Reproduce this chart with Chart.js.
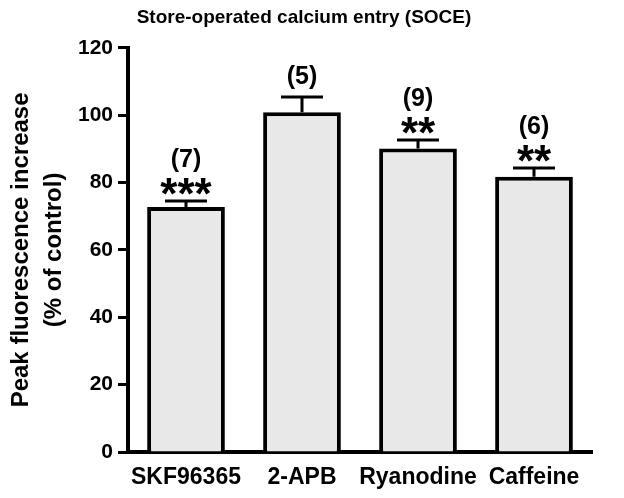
<!DOCTYPE html>
<html>
<head>
<meta charset="utf-8">
<script src="https://cdn.jsdelivr.net/npm/chart.js@4"></script>
<style>
  html, body { margin: 0; padding: 0; background: #fff; }
  #wrap { width: 624px; height: 498px; }
</style>
</head>
<body>
<div id="wrap"><canvas id="chart"></canvas></div>
<script>
const categories = ["SKF96365", "2-APB", "Ryanodine", "Caffeine"];
const means = [72.7, 100.9, 90.1, 81.7];
const sems = [1.8, 4.5, 2.5, 2.6];
const nLabels = ["(7)", "(5)", "(9)", "(6)"];
const stars = ["***", "", "**", "**"];
const yTicks = [0, 20, 40, 60, 80, 100, 120];

const FONT = "'Liberation Sans', Arial, sans-serif";
Chart.defaults.font.family = FONT;
Chart.defaults.color = "#000";

// centre a string's glyphs vertically on y
function drawCentered(ctx, str, x, y) {
    const m = ctx.measureText(str);
    ctx.fillText(str, x, y + (m.actualBoundingBoxAscent - m.actualBoundingBoxDescent) / 2);
}

const errorBars = {
    id: "errorBars",
    afterDatasetsDraw(chart) {
        const ctx = chart.ctx;
        const yScale = chart.scales.y;
        const meta = chart.getDatasetMeta(0);
        ctx.save();
        meta.data.forEach((bar, i) => {
            const x = bar.x;
            const capY = yScale.getPixelForValue(means[i] + sems[i]);
            const capHalf = bar.width * 0.27;
            ctx.strokeStyle = "#000";
            ctx.lineWidth = 3;
            ctx.beginPath();
            ctx.moveTo(x, bar.y);
            ctx.lineTo(x, capY);
            ctx.moveTo(x - capHalf, capY);
            ctx.lineTo(x + capHalf, capY);
            ctx.stroke();

            ctx.fillStyle = "#000";
            ctx.textAlign = "center";
            ctx.textBaseline = "alphabetic";
            if (stars[i]) {
                ctx.font = "bold 44px " + FONT;
                drawCentered(ctx, stars[i], x, capY - 15);
            }
            ctx.font = "bold 25px " + FONT;
            drawCentered(ctx, nLabels[i], x, capY - (stars[i] ? 41 : 20));
        });
        ctx.restore();
    }
};

new Chart(document.getElementById("chart"), {
    type: "bar",
    data: {
        labels: categories,
        datasets: [{
            data: means,
            backgroundColor: "#e8e8e8",
            borderColor: "#000",
            borderWidth: 4,
            barPercentage: 0.67,
            categoryPercentage: 1,
        }],
    },
    options: {
        responsive: true,
        maintainAspectRatio: false,
        animation: false,
        layout: { padding: { left: 16, right: 32, top: 0, bottom: 0 } },
        plugins: {
            legend: { display: false },
            tooltip: { enabled: false },
            title: {
                display: true,
                text: "Store-operated calcium entry (SOCE)",
                font: { size: 19, weight: "bold" },
                padding: { top: 6, bottom: 19 },
            },
        },
        scales: {
            x: {
                grid: { display: false, drawTicks: false },
                border: { display: true, color: "#000", width: 4 },
                ticks: {
                    font: { size: 23, weight: "bold" },
                    padding: 12,
                    autoSkip: false,
                    maxRotation: 0,
                    minRotation: 0,
                },
                afterFit(scale) {
                    scale.height = 46;
                },
            },
            y: {
                min: 0,
                max: 120,
                afterBuildTicks(scale) {
                    scale.ticks = yTicks.map(v => ({ value: v }));
                },
                afterFit(scale) {
                    scale.width = 112;
                },
                grid: {
                    display: true,
                    drawOnChartArea: false,
                    tickLength: 10,
                    tickWidth: 3,
                    tickColor: "#000",
                },
                border: { display: true, color: "#000", width: 4 },
                ticks: { font: { size: 21, weight: "bold" }, padding: 5 },
                title: {
                    display: true,
                    text: ["Peak fluorescence increase", "(% of control)"],
                    font: { size: 24, weight: "bold", lineHeight: 1.375 },
                    padding: { top: -11, bottom: 0 },
                },
            },
        },
    },
    plugins: [errorBars],
});
</script>
</body>
</html>
